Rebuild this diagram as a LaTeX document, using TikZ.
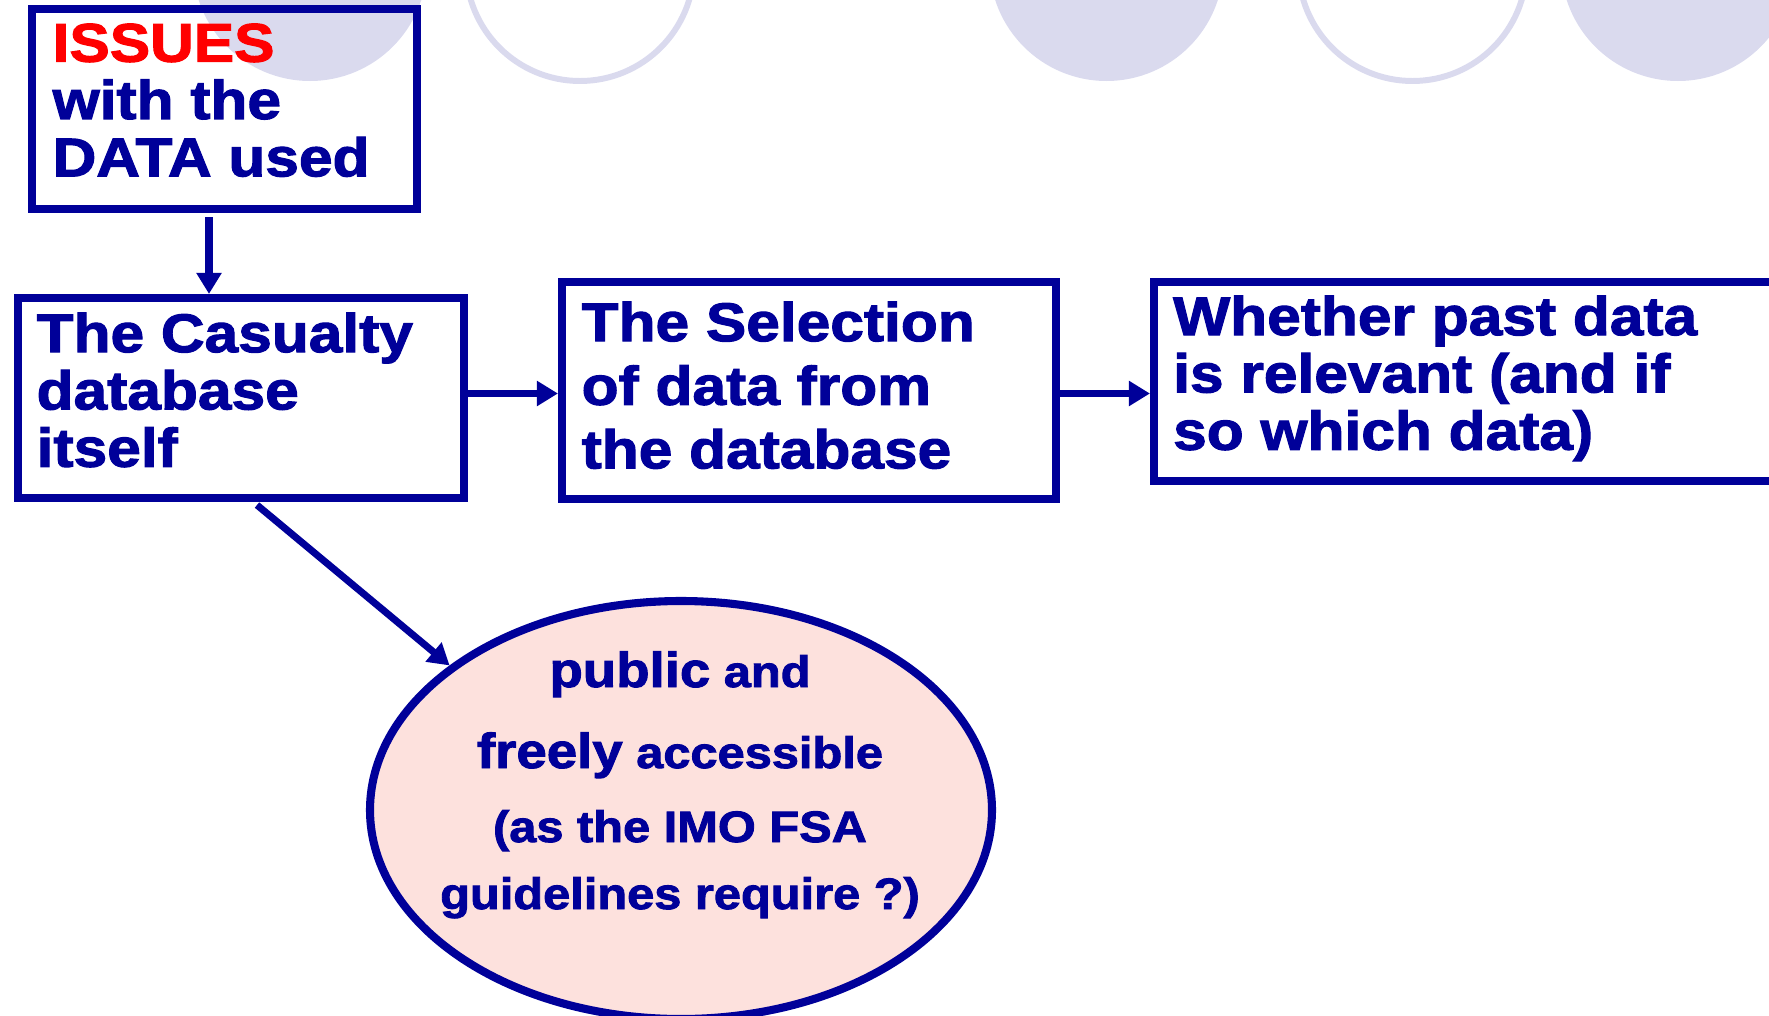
\documentclass[tikz,border=0pt]{standalone}
\usepackage{fontspec}
\newfontfamily\slidefont[FakeStretch=1.11, BoldFeatures={FakeBold=2}]{Liberation Sans}
\usetikzlibrary{shapes,arrows.meta}
\definecolor{deepblue}{RGB}{0,0,153}
\definecolor{lavender}{RGB}{218,218,238}
\definecolor{blush}{RGB}{253,225,221}

\begin{document}
\begin{tikzpicture}
  [
    >={Triangle[length=2.1mm,width=2.4mm]},
    box/.style     = {draw=deepblue, line width=2.3pt, rectangle, inner sep=0pt},
    txt/.style     = {anchor=north west, inner sep=0pt, align=left, text=deepblue},
    ovaltxt/.style = {anchor=base, inner sep=0pt, text=deepblue},
    arr/.style     = {->, draw=deepblue, fill=deepblue, line width=2pt},
    ring/.style    = {draw=lavender, line width=1.7pt},
  ]

%Fonts of the slide
\def \boxfont{\slidefont\bfseries\fontsize{15.5}{16.3}\selectfont}
\def \widefont{\slidefont\bfseries\fontsize{15.5}{18.1}\selectfont}
\def \smallfont{\slidefont\bfseries\fontsize{12.5}{12.5}\selectfont}
\def \largefont{\fontsize{14}{14}\selectfont}

\useasboundingbox (0,0) rectangle (17.69,-10.16);

%Decoration along the top edge
\foreach \x in {3.10,11.065,16.78}
  \fill[lavender] (\x,0.36) circle [radius=1.17];
\foreach \x in {5.80,14.125}
  \draw[ring] (\x,0.33) circle [radius=1.14];

%The four boxes
\node[box, minimum width=3.85cm, minimum height=2.00cm] (iss) at (2.245,-1.09) {};
\node[box, minimum width=4.46cm, minimum height=2.00cm] (cas) at (2.41,-3.98) {};
\node[box, minimum width=4.94cm, minimum height=2.17cm] (sel) at (8.09,-3.905) {};
\node[box, minimum width=6.46cm, minimum height=1.99cm] (pst) at (14.77,-3.815) {};

\node[txt, font=\boxfont] (isstxt) at ([xshift=0.24cm,yshift=-0.18cm]iss.north west)
  {\textcolor{red}{ISSUES}\\with the\\DATA used};
\node[txt, font=\boxfont] (castxt) at ([xshift=0.22cm,yshift=-0.18cm]cas.north west)
  {The Casualty\\database\\itself};
\node[txt, font=\widefont] (seltxt) at ([xshift=0.23cm,yshift=-0.23cm]sel.north west)
  {The Selection\\of data from\\the database};
\node[txt, font=\boxfont] (psttxt) at ([xshift=0.225cm,yshift=-0.17cm]pst.north west)
  {Whether past data\\is relevant (and if\\so which data)};

%The oval
\node[ellipse, draw=deepblue, fill=blush, line width=2.3pt,
      minimum width=6.22cm, minimum height=4.18cm, inner sep=0pt] (pub) at (6.81,-8.10) {};

\foreach [count=\i] \t/\y in {{{\largefont public} and}/6.87,
                              {{\largefont freely} accessible}/7.68,
                              {{(as the IMO FSA}}/8.42,
                              {{guidelines require ?)}}/9.09}
{
\node[ovaltxt, font=\smallfont] (pub\i) at (6.80,-\y) {\t};
}

%Connectors
\coordinate (dropx) at ([xshift=-0.155cm]iss.south);
\coordinate (midrow) at (0,-3.935);

\draw[arr] ([yshift=-0.04cm]dropx) -- (dropx |- cas.north);
\draw[arr] (cas.east |- midrow) -- (sel.west |- midrow);
\draw[arr] (sel.east |- midrow) -- (pst.west |- midrow);
\draw[arr] ([xshift=0.16cm,yshift=-0.03cm]cas.south) -- (pub.148);
\end{tikzpicture}
\end{document}
